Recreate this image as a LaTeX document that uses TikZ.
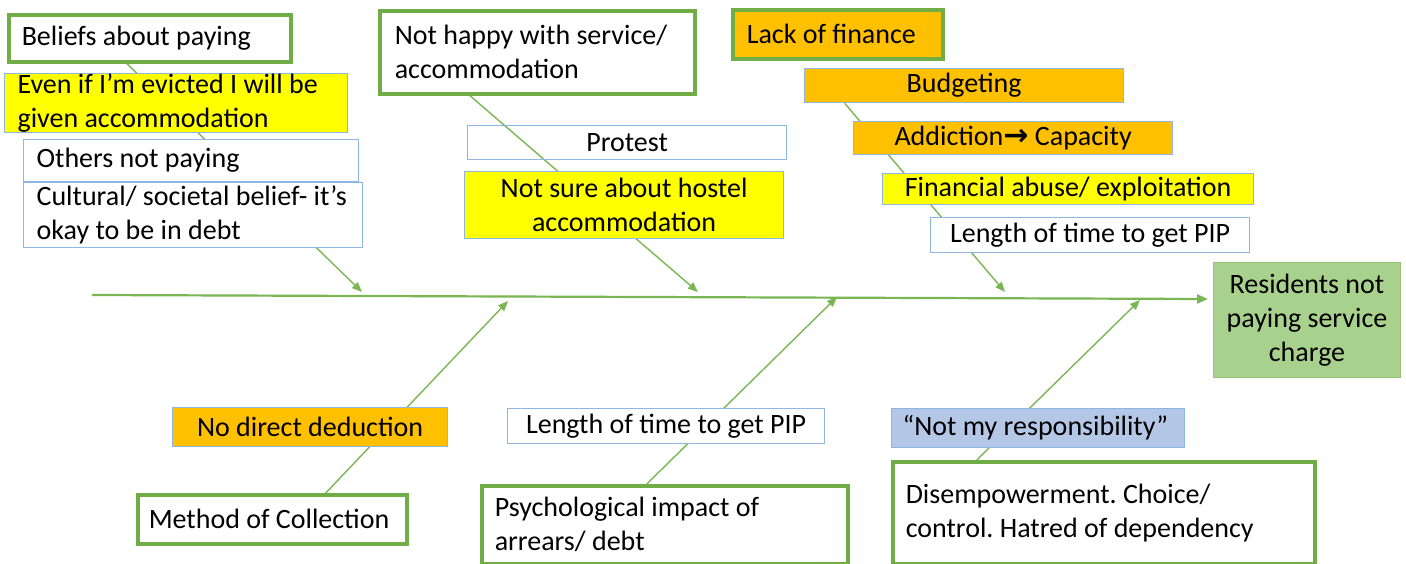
\documentclass[tikz,border=0pt]{standalone}
\usepackage{fontspec}
\setmainfont{Carlito}
\newfontfamily\arrowfont{DejaVu Sans}
\usepackage{tikz}
\usetikzlibrary{arrows.meta, backgrounds}
\definecolor{framegreen}{RGB}{112,173,71}
\definecolor{bonegreen}{RGB}{122,182,84}
\definecolor{edgeblue}{RGB}{143,182,226}
\definecolor{financeorange}{RGB}{255,192,0}
\definecolor{noteyellow}{RGB}{255,255,0}
\definecolor{quoteblue}{RGB}{180,199,231}
\definecolor{effectgreen}{RGB}{169,209,142}
\definecolor{effectedge}{RGB}{150,196,118}
\frenchspacing

\begin{document}
\begin{tikzpicture}[x=1pt, y=-1pt,
    every node/.style={font=\fontsize{28}{34}\selectfont},
    cause/.style={draw=framegreen, line width=3.5pt, fill=white, anchor=north west, inner sep=0pt},
    factor/.style={draw=edgeblue, line width=1.2pt, fill=white, anchor=north west, inner sep=0pt},
    lefttext/.style={align=flush left, inner xsep=13pt, text width=#1},
    effect/.style={draw=effectedge, line width=1pt, fill=effectgreen, anchor=north west, inner sep=0pt, align=center},
    bone/.style={draw=bonegreen, line width=1.4pt, -{Triangle[length=10pt, width=8pt]}},
    spine/.style={draw=bonegreen, line width=2.2pt, -{Triangle[length=11pt, width=9pt]}}
]
    \useasboundingbox (0,0) rectangle (1406,563);

    % Beliefs about paying
    \node[cause, lefttext=256pt, minimum height=47pt] (beliefs) at (7,13) {Beliefs about paying};
    \node[factor, fill=noteyellow, lefttext=317pt, minimum height=58pt] (evicted) at (4,73) {Even if I’m evicted I will be\\given accommodation};
    \node[factor, lefttext=309pt, minimum height=42pt] (others) at (23,139) {Others not paying};
    \node[factor, lefttext=313pt, minimum height=65pt] (cultural) at (23,182) {Cultural/ societal belief- it’s\\okay to be in debt};

    % Service
    \node[cause, lefttext=285pt, inner xsep=15pt, minimum height=83pt] (service) at (378,9) {Not happy with service/\\accommodation};
    \node[factor, fill=none, minimum width=319pt, minimum height=34pt] (protest) at (467,125) {Protest};
    \node[factor, fill=noteyellow, align=center, minimum width=319pt, minimum height=67pt] (hostel) at (464,171) {Not sure about hostel\\accommodation};

    % Finance
    \node[cause, fill=financeorange, lefttext=182pt, inner xsep=14pt, minimum height=49pt] (finance) at (731,8) {Lack of finance};
    \node[factor, fill=financeorange, minimum width=319pt, minimum height=34pt] (budget) at (804,68) {Budgeting};
    \node[factor, fill=financeorange, minimum width=319pt, minimum height=33pt] (addiction) at (853,121) {Addiction{\arrowfont\bfseries\fontsize{30}{34}\selectfont →} Capacity};
    \node[factor, fill=noteyellow, minimum width=371pt, minimum height=31pt] (abuse) at (882,173) {Financial abuse/ exploitation};
    \node[factor, minimum width=319pt, minimum height=35pt] (piptop) at (930,217) {Length of time to get PIP};

    % Effect
    \node[effect, minimum width=187pt, minimum height=115pt] (residents) at (1213,262) {Residents not\\paying service\\charge};

    % Collection
    \node[factor, fill=financeorange, minimum width=275pt, minimum height=39pt] (deduction) at (172,407) {No direct deduction};
    \node[cause, lefttext=247pt, inner xsep=11pt, minimum height=49pt] (collection) at (136,493) {Method of Collection};

    % Psychological impact
    \node[factor, minimum width=317pt, minimum height=35pt] (pipbottom) at (507,408) {Length of time to get PIP};
    \node[cause, lefttext=340pt, minimum height=78pt] (psych) at (480,484) {Psychological impact of\\arrears/ debt};

    % Disempowerment
    \node[factor, fill=quoteblue, lefttext=271pt, inner xsep=11pt, minimum height=39pt] (responsibility) at (891,408) {“Not my responsibility”};
    \node[cause, lefttext=396pt, minimum height=102pt] (power) at (891,460) {Disempowerment. Choice/\\control. Hatred of dependency};

    % Bone ends
    \coordinate (tail) at (92,295);
    \coordinate (head) at (1208,299);
    \coordinate (beliefsend) at (362,292);
    \coordinate (serviceend) at (698,292);
    \coordinate (financeend) at (1005,292);
    \coordinate (collectionend) at (508,301);
    \coordinate (psychend) at (837,297);
    \coordinate (powerend) at (1140,300);

    % Connections
    \begin{scope}[on background layer]
        \draw[spine] (tail) -- (head);
        \draw[bone] ([xshift=-23pt]beliefs.south) -- (beliefsend);
        \draw[bone] ([xshift=-67.5pt]service.south) -- (serviceend);
        \draw[bone] ([xshift=-119.5pt]budget.south) -- (financeend);
        \draw[bone] ([xshift=53.5pt]collection.north) -- (collectionend);
        \draw[bone] ([xshift=-18pt]psych.north) -- (psychend);
        \draw[bone] ([xshift=-127pt]power.north) -- (powerend);
    \end{scope}

\end{tikzpicture}
\end{document}
